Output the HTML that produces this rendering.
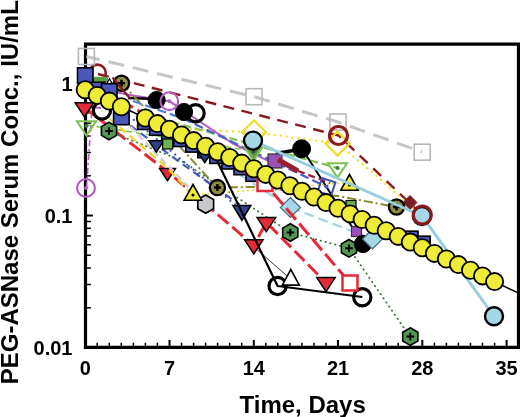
<!DOCTYPE html>
<html><head><meta charset="utf-8"><style>
html,body{margin:0;padding:0;background:#fff;overflow:hidden}
svg{display:block}
text{font-family:"Liberation Sans",Arial,sans-serif;font-weight:bold;fill:#000}
</style></head><body>
<svg width="520" height="417" viewBox="0 0 520 417">
<rect width="520" height="417" fill="#fff"/>
<path d="M85.5 44.1H518.5V347.4H85.5Z" fill="none" stroke="#000" stroke-width="3.2"/>
<path d="M97.2 345.9V342.7" stroke="#000" stroke-width="1.5"/>
<path d="M109.3 345.9V342.7" stroke="#000" stroke-width="1.5"/>
<path d="M121.3 345.9V342.7" stroke="#000" stroke-width="1.5"/>
<path d="M133.4 345.9V342.7" stroke="#000" stroke-width="1.5"/>
<path d="M145.4 345.9V342.7" stroke="#000" stroke-width="1.5"/>
<path d="M157.4 345.9V342.7" stroke="#000" stroke-width="1.5"/>
<path d="M169.5 345.9V339.9" stroke="#000" stroke-width="2"/>
<path d="M181.5 345.9V342.7" stroke="#000" stroke-width="1.5"/>
<path d="M193.6 345.9V342.7" stroke="#000" stroke-width="1.5"/>
<path d="M205.6 345.9V342.7" stroke="#000" stroke-width="1.5"/>
<path d="M217.6 345.9V342.7" stroke="#000" stroke-width="1.5"/>
<path d="M229.7 345.9V342.7" stroke="#000" stroke-width="1.5"/>
<path d="M241.7 345.9V342.7" stroke="#000" stroke-width="1.5"/>
<path d="M253.8 345.9V339.9" stroke="#000" stroke-width="2"/>
<path d="M265.8 345.9V342.7" stroke="#000" stroke-width="1.5"/>
<path d="M277.8 345.9V342.7" stroke="#000" stroke-width="1.5"/>
<path d="M289.9 345.9V342.7" stroke="#000" stroke-width="1.5"/>
<path d="M301.9 345.9V342.7" stroke="#000" stroke-width="1.5"/>
<path d="M314.0 345.9V342.7" stroke="#000" stroke-width="1.5"/>
<path d="M326.0 345.9V342.7" stroke="#000" stroke-width="1.5"/>
<path d="M338.0 345.9V339.9" stroke="#000" stroke-width="2"/>
<path d="M350.1 345.9V342.7" stroke="#000" stroke-width="1.5"/>
<path d="M362.1 345.9V342.7" stroke="#000" stroke-width="1.5"/>
<path d="M374.2 345.9V342.7" stroke="#000" stroke-width="1.5"/>
<path d="M386.2 345.9V342.7" stroke="#000" stroke-width="1.5"/>
<path d="M398.2 345.9V342.7" stroke="#000" stroke-width="1.5"/>
<path d="M410.3 345.9V342.7" stroke="#000" stroke-width="1.5"/>
<path d="M422.3 345.9V339.9" stroke="#000" stroke-width="2"/>
<path d="M434.4 345.9V342.7" stroke="#000" stroke-width="1.5"/>
<path d="M446.4 345.9V342.7" stroke="#000" stroke-width="1.5"/>
<path d="M458.4 345.9V342.7" stroke="#000" stroke-width="1.5"/>
<path d="M470.5 345.9V342.7" stroke="#000" stroke-width="1.5"/>
<path d="M482.5 345.9V342.7" stroke="#000" stroke-width="1.5"/>
<path d="M494.6 345.9V342.7" stroke="#000" stroke-width="1.5"/>
<path d="M506.6 345.9V339.9" stroke="#000" stroke-width="2"/>
<path d="M87.0 307.8H90.9" stroke="#000" stroke-width="1.5"/>
<path d="M87.0 284.5H90.9" stroke="#000" stroke-width="1.5"/>
<path d="M87.0 268.0H90.9" stroke="#000" stroke-width="1.5"/>
<path d="M87.0 255.2H90.9" stroke="#000" stroke-width="1.5"/>
<path d="M87.0 244.8H90.9" stroke="#000" stroke-width="1.5"/>
<path d="M87.0 235.9H90.9" stroke="#000" stroke-width="1.5"/>
<path d="M87.0 228.3H90.9" stroke="#000" stroke-width="1.5"/>
<path d="M87.0 221.5H90.9" stroke="#000" stroke-width="1.5"/>
<path d="M87.0 215.5H92.9" stroke="#000" stroke-width="2"/>
<path d="M87.0 175.8H90.9" stroke="#000" stroke-width="1.5"/>
<path d="M87.0 152.5H90.9" stroke="#000" stroke-width="1.5"/>
<path d="M87.0 136.0H90.9" stroke="#000" stroke-width="1.5"/>
<path d="M87.0 123.2H90.9" stroke="#000" stroke-width="1.5"/>
<path d="M87.0 112.8H90.9" stroke="#000" stroke-width="1.5"/>
<path d="M87.0 103.9H90.9" stroke="#000" stroke-width="1.5"/>
<path d="M87.0 96.3H90.9" stroke="#000" stroke-width="1.5"/>
<path d="M87.0 89.5H90.9" stroke="#000" stroke-width="1.5"/>
<path d="M87.0 83.5H92.9" stroke="#000" stroke-width="2"/>
<path d="M87.0 43.8H90.9" stroke="#000" stroke-width="1.5"/>
<text x="72.5" y="354.7" font-size="20" text-anchor="end">0.01</text>
<text x="72.5" y="222.7" font-size="20" text-anchor="end">0.1</text>
<text x="72.5" y="90.7" font-size="20" text-anchor="end">1</text>
<text x="85.2" y="375.2" font-size="20" text-anchor="middle">0</text>
<text x="169.5" y="375.2" font-size="20" text-anchor="middle">7</text>
<text x="253.8" y="375.2" font-size="20" text-anchor="middle">14</text>
<text x="338.0" y="375.2" font-size="20" text-anchor="middle">21</text>
<text x="422.3" y="375.2" font-size="20" text-anchor="middle">28</text>
<text x="506.6" y="375.2" font-size="20" text-anchor="middle">35</text>
<text x="239.5" y="412.6" font-size="24">Time, Days</text>
<text transform="translate(17.9,384.3) rotate(-90)" x="0" y="0" font-size="24">PEG-ASNase Serum Conc., IU/mL</text>
<path d="M86.4 56.5 L254.0 96.7 L338.0 122.0 L422.0 152.0" fill="none" stroke="#c6c6c6" stroke-width="3" stroke-dasharray="16 9" stroke-dashoffset="2.3" stroke-linecap="butt" stroke-linejoin="round"/>
<path d="M98.0 74.0 L338.5 135.5 L422.3 215.0" fill="none" stroke="#8a1a1e" stroke-width="2.4" stroke-dasharray="11 7.5" stroke-linecap="butt" stroke-linejoin="round"/>
<path d="M86.5 125.0 L253.0 151.0" fill="none" stroke="#7cc24e" stroke-width="1.5" stroke-dasharray="6 4" stroke-linecap="butt" stroke-linejoin="round"/>
<path d="M160.0 118.7 L337.5 168.0" fill="none" stroke="#7cc24e" stroke-width="2.2" stroke-dasharray="8 4" stroke-linecap="butt" stroke-linejoin="round"/>
<path d="M130.0 126.0 L213.0 130.6 L254.0 132.2 L337.5 143.5 L372.0 172.0 L422.0 216.0" fill="none" stroke="#f0e020" stroke-width="2.2" stroke-dasharray="2 4" stroke-linecap="butt" stroke-linejoin="round"/>
<path d="M86.4 188.0 L93.5 88.0" fill="none" stroke="#b25cc2" stroke-width="1.6" stroke-dasharray="6 3 2 3" stroke-linecap="butt" stroke-linejoin="round"/>
<path d="M95.0 88.0 L130.0 95.0 L169.3 101.2 L232.0 143.0 L276.0 164.8" fill="none" stroke="#b25cc2" stroke-width="2" stroke-linecap="butt" stroke-linejoin="round"/>
<path d="M276.0 153.5 L302.0 149.0" fill="none" stroke="#000" stroke-width="3.5" stroke-linecap="butt" stroke-linejoin="round"/>
<path d="M302.0 148.8 L363.0 244.0" fill="none" stroke="#000" stroke-width="2" stroke-linecap="butt" stroke-linejoin="round"/>
<path d="M128.0 98.0 L156.3 99.0" fill="none" stroke="#000" stroke-width="2.4" stroke-linecap="butt" stroke-linejoin="round"/>
<path d="M91.0 107.0 L101.0 108.0" fill="none" stroke="#b25cc2" stroke-width="2.2" stroke-linecap="butt" stroke-linejoin="round"/>
<path d="M133.0 101.0 L183.0 118.5" fill="none" stroke="#4f7fd0" stroke-width="2.2" stroke-dasharray="9 4" stroke-linecap="butt" stroke-linejoin="round"/>
<path d="M122.0 83.0 L217.0 187.5 L254.0 187.0 L338.0 196.0 L396.5 207.0" fill="none" stroke="#8a8a30" stroke-width="2" stroke-dasharray="9 3 2 3" stroke-linecap="butt" stroke-linejoin="round"/>
<path d="M84.5 107.5 L168.8 172.7 L253.8 245.4 L266.3 222.3 L326.3 283.0" fill="none" stroke="#e42a36" stroke-width="3" stroke-dasharray="14 5" stroke-linecap="butt" stroke-linejoin="round"/>
<path d="M109.0 131.0 L180.0 160.0 L290.3 232.5 L349.0 248.3 L410.0 336.7" fill="none" stroke="#3c7a3c" stroke-width="1.8" stroke-dasharray="0.5 4.5" stroke-linecap="round" stroke-linejoin="round"/>
<path d="M110.0 100.0 L242.3 210.8" fill="none" stroke="#4a57bb" stroke-width="2" stroke-dasharray="2 4" stroke-linecap="butt" stroke-linejoin="round"/>
<path d="M120.0 118.0 L178.8 161.5 L240.0 205.0" fill="none" stroke="#4a57bb" stroke-width="2.2" stroke-dasharray="8 5" stroke-linecap="butt" stroke-linejoin="round"/>
<polygon points="159.5,168.4 175.5,168.4 167.5,180.6" fill="#e42a36" stroke="#000" stroke-width="1.5" stroke-linejoin="miter"/>
<path d="M100.0 95.0 L205.4 204.8" fill="none" stroke="#d0d0d0" stroke-width="2.5" stroke-dasharray="7 4" stroke-linecap="butt" stroke-linejoin="round"/>
<path d="M110.0 119.0 L168.0 168.5 L192.3 195.0" fill="none" stroke="#e8d820" stroke-width="2.2" stroke-dasharray="8 5" stroke-linecap="butt" stroke-linejoin="round"/>
<path d="M192.3 195.0 L349.0 182.5" fill="none" stroke="#e8d820" stroke-width="1.5" stroke-dasharray="2 3" stroke-linecap="butt" stroke-linejoin="round"/>
<path d="M240.0 175.0 L290.4 207.5 L372.5 239.0" fill="none" stroke="#a6d7e6" stroke-width="2.4" stroke-dasharray="10 5" stroke-linecap="butt" stroke-linejoin="round"/>
<path d="M253.0 246.0 L290.8 279.3" fill="none" stroke="#000" stroke-width="0.8" stroke-linecap="butt" stroke-linejoin="round"/>
<path d="M183.0 118.5 L326.6 186.8" fill="none" stroke="#4a62c4" stroke-width="2.2" stroke-dasharray="9 4" stroke-linecap="butt" stroke-linejoin="round"/>
<circle cx="97.4" cy="73.0" r="8.4" fill="none" stroke="#8a1a1e" stroke-width="2.6" />
<rect x="94" y="76.8" width="14" height="5.5" fill="#5aa046"/>
<polygon points="103.5,89.6 115.5,89.6 109.5,78.8" fill="#fff" stroke="#000" stroke-width="1.3" stroke-linejoin="miter"/>
<circle cx="121.5" cy="83.3" r="7.6" fill="#8f8f3e" stroke="#000" stroke-width="2.3" />
<path d="M118.0 83.3H125.0M121.5 79.8V86.8" stroke="#000" stroke-width="2.5"/>
<path d="M112.5 77.5 L130.0 98.5" fill="none" stroke="#7a1c24" stroke-width="2.2" stroke-linecap="butt" stroke-linejoin="round"/>
<rect x="77.5" y="67.8" width="15.5" height="15.5" fill="#4a57bb" stroke="#000" stroke-width="1.6"/>
<rect x="89.5" y="82.2" width="15.5" height="15.5" fill="#4a57bb" stroke="#000" stroke-width="1.6"/>
<rect x="101.5" y="83.7" width="15.5" height="15.5" fill="#4a57bb" stroke="#000" stroke-width="1.6"/>
<rect x="113.6" y="109.2" width="15.5" height="15.5" fill="#4a57bb" stroke="#000" stroke-width="1.6"/>
<rect x="137.7" y="114.0" width="15.5" height="15.5" fill="#4a57bb" stroke="#000" stroke-width="1.6"/>
<rect x="149.7" y="119.7" width="15.5" height="15.5" fill="#4a57bb" stroke="#000" stroke-width="1.6"/>
<rect x="161.7" y="125.3" width="15.5" height="15.5" fill="#4a57bb" stroke="#000" stroke-width="1.6"/>
<rect x="173.8" y="131.0" width="15.5" height="15.5" fill="#4a57bb" stroke="#000" stroke-width="1.6"/>
<rect x="185.8" y="136.6" width="15.5" height="15.5" fill="#4a57bb" stroke="#000" stroke-width="1.6"/>
<rect x="197.8" y="142.2" width="15.5" height="15.5" fill="#4a57bb" stroke="#000" stroke-width="1.6"/>
<rect x="209.9" y="147.9" width="15.5" height="15.5" fill="#4a57bb" stroke="#000" stroke-width="1.6"/>
<rect x="221.9" y="153.5" width="15.5" height="15.5" fill="#4a57bb" stroke="#000" stroke-width="1.6"/>
<rect x="234.0" y="159.2" width="15.5" height="15.5" fill="#4a57bb" stroke="#000" stroke-width="1.6"/>
<rect x="246.0" y="165.8" width="15.5" height="15.5" fill="#4a57bb" stroke="#000" stroke-width="1.6"/>
<rect x="402.5" y="231.2" width="15.5" height="15.5" fill="#4a57bb" stroke="#000" stroke-width="1.6"/>
<rect x="414.6" y="236.2" width="15.5" height="15.5" fill="#4a57bb" stroke="#000" stroke-width="1.6"/>
<rect x="78.4" y="48.5" width="16" height="16" fill="none" stroke="#b8b8b8" stroke-width="1.6"/>
<rect x="246.0" y="88.7" width="16" height="16" fill="none" stroke="#b8b8b8" stroke-width="1.6"/>
<rect x="330.0" y="114.0" width="16" height="16" fill="none" stroke="#b8b8b8" stroke-width="1.6"/>
<rect x="414.2" y="144.2" width="16" height="16" fill="none" stroke="#b8b8b8" stroke-width="1.6"/>
<polygon points="75.2,102.8 93.8,102.8 84.5,116.9" fill="#e42a36" stroke="#000" stroke-width="1.5" stroke-linejoin="miter"/>
<polygon points="244.6,239.8 263.1,239.8 253.8,253.9" fill="#e42a36" stroke="#000" stroke-width="1.5" stroke-linejoin="miter"/>
<polygon points="257.1,217.6 275.6,217.6 266.3,231.7" fill="#e42a36" stroke="#000" stroke-width="1.5" stroke-linejoin="miter"/>
<polygon points="316.8,277.6 335.2,277.6 326.0,291.7" fill="#e42a36" stroke="#000" stroke-width="1.5" stroke-linejoin="miter"/>
<polygon points="77.0,121.2 96.0,121.2 86.5,135.6" fill="none" stroke="#7cc24e" stroke-width="2" stroke-linejoin="miter"/>
<circle cx="86.5" cy="126.0" r="2" fill="#3a7a3a"/>
<polygon points="328.0,163.2 347.0,163.2 337.5,177.6" fill="none" stroke="#7cc24e" stroke-width="2" stroke-linejoin="miter"/>
<circle cx="337.5" cy="168.0" r="2" fill="#3a7a3a"/>
<polygon points="244.5,146.9 262.5,146.9 253.5,160.6" fill="#5f984c" stroke="#7cc24e" stroke-width="2" stroke-linejoin="miter"/>
<circle cx="253.5" cy="151.5" r="2" fill="#2a5a2a"/>
<polygon points="148.8,140.7 163.8,140.7 156.3,152.1" fill="#2b3f86" stroke="#000" stroke-width="1.5" stroke-linejoin="miter"/>
<polygon points="197.3,151.2 212.3,151.2 204.8,162.6" fill="#2b3f86" stroke="#000" stroke-width="1.5" stroke-linejoin="miter"/>
<polygon points="232.9,205.5 250.9,205.5 241.9,220.2" fill="#34448a" stroke="#000" stroke-width="1.5" stroke-linejoin="miter"/>
<path d="M209.4 145.0 L277.6 286.0 L362.3 297.0" fill="none" stroke="#000" stroke-width="2.2" stroke-linecap="butt" stroke-linejoin="round"/>
<rect x="268.0" y="154.0" width="14" height="14" fill="#9a52b6" stroke="#333" stroke-width="1.2"/>
<rect x="351.5" y="226.5" width="10" height="10" fill="#a04cc0" stroke="#333" stroke-width="1.2"/>
<path d="M278.0 159.5 L298.0 171.0" fill="none" stroke="#9a1f2e" stroke-width="5" stroke-linecap="butt" stroke-linejoin="round"/>
<path d="M298.0 171.0 L330.0 183.0" fill="none" stroke="#a0202e" stroke-width="2.4" stroke-dasharray="7 4" stroke-linecap="butt" stroke-linejoin="round"/>
<polygon points="410.0,195.5 417.0,202.5 410.0,209.5 403.0,202.5" fill="#7a1c24" stroke="#7a1c24" stroke-width="1"/>
<rect x="162.7" y="139.0" width="10" height="10" fill="#6db34a" stroke="#000" stroke-width="1.2"/>
<rect x="346.0" y="200.5" width="10" height="10" fill="#6db34a" stroke="#000" stroke-width="1.2"/>
<polygon points="109.0,122.2 116.6,126.6 116.6,135.4 109.0,139.8 101.4,135.4 101.4,126.6" fill="#549654" stroke="#000" stroke-width="1.6"/>
<path d="M105.2 131.0H112.8M109.0 127.2V134.8" stroke="#000" stroke-width="2"/>
<polygon points="290.3,223.7 297.9,228.1 297.9,236.9 290.3,241.3 282.7,236.9 282.7,228.1" fill="#549654" stroke="#000" stroke-width="1.6"/>
<path d="M286.5 232.5H294.1M290.3 228.7V236.3" stroke="#000" stroke-width="2"/>
<polygon points="349.0,239.5 356.6,243.9 356.6,252.7 349.0,257.1 341.4,252.7 341.4,243.9" fill="#549654" stroke="#000" stroke-width="1.6"/>
<path d="M345.2 248.3H352.8M349.0 244.5V252.1" stroke="#000" stroke-width="2"/>
<polygon points="410.3,327.8 417.9,332.2 417.9,341.0 410.3,345.4 402.7,341.0 402.7,332.2" fill="#549654" stroke="#000" stroke-width="1.6"/>
<path d="M406.5 336.6H414.1M410.3 332.8V340.4" stroke="#000" stroke-width="2"/>
<polygon points="205.7,195.1 213.6,199.6 213.6,208.8 205.7,213.3 197.8,208.8 197.8,199.6" fill="#c8c8cc" stroke="#000" stroke-width="1.7"/>
<circle cx="156.6" cy="100.0" r="8.6" fill="#000" stroke="#000" stroke-width="1" />
<circle cx="184.0" cy="112.0" r="8.6" fill="#000" stroke="#000" stroke-width="1" />
<circle cx="363.0" cy="244.0" r="8.6" fill="#000" stroke="#000" stroke-width="1" />
<circle cx="301.6" cy="148.8" r="9" fill="#000" stroke="#000" stroke-width="1" />
<circle cx="102.0" cy="110.5" r="8.6" fill="none" stroke="#000" stroke-width="3.2" />
<circle cx="195.6" cy="113.3" r="8.6" fill="none" stroke="#000" stroke-width="3.2" />
<circle cx="277.6" cy="286.0" r="8.6" fill="none" stroke="#000" stroke-width="3.2" />
<circle cx="362.3" cy="297.2" r="8.6" fill="none" stroke="#000" stroke-width="3.2" />
<circle cx="217.4" cy="187.6" r="7.6" fill="#8f8f3e" stroke="#000" stroke-width="2.3" />
<path d="M213.9 187.6H220.9M217.4 184.1V191.1" stroke="#000" stroke-width="2.5"/>
<circle cx="396.5" cy="207.0" r="7.6" fill="#8f8f3e" stroke="#000" stroke-width="2.3" />
<path d="M393.0 207.0H400.0M396.5 203.5V210.5" stroke="#000" stroke-width="2.5"/>
<polygon points="184.2,200.2 201.8,200.2 193.0,184.5" fill="#eeec36" stroke="#000" stroke-width="1.6" stroke-linejoin="miter"/>
<circle cx="193.0" cy="195.0" r="1.6" fill="#000"/>
<polygon points="340.8,190.2 358.2,190.2 349.5,174.5" fill="#eeec36" stroke="#000" stroke-width="1.6" stroke-linejoin="miter"/>
<circle cx="349.5" cy="185.0" r="1.6" fill="#000"/>
<polygon points="254.0,120.2 266.0,132.2 254.0,144.2 242.0,132.2" fill="none" stroke="#eedc30" stroke-width="2.2"/>
<polygon points="337.5,131.5 349.5,143.5 337.5,155.5 325.5,143.5" fill="none" stroke="#eedc30" stroke-width="2.4"/>
<polygon points="290.4,197.5 300.4,207.5 290.4,217.5 280.4,207.5" fill="#a6d7e6" stroke="#4a6a80" stroke-width="1.2"/>
<polygon points="372.5,229.0 382.5,239.0 372.5,249.0 362.5,239.0" fill="#a6d7e6" stroke="#4a6a80" stroke-width="1.2"/>
<path d="M120.0 100.0 L265.0 183.5 L350.0 283.0" fill="none" stroke="#e42a36" stroke-width="3" stroke-dasharray="15 5" stroke-linecap="butt" stroke-linejoin="round"/>
<rect x="257.5" y="176.0" width="15" height="15" fill="#fff" stroke="#e42a36" stroke-width="2.5"/>
<rect x="342.5" y="275.5" width="15" height="15" fill="#fff" stroke="#e42a36" stroke-width="2.5"/>
<polygon points="282.3,285.1 299.3,285.1 290.8,269.5" fill="#fff" stroke="#000" stroke-width="1.6" stroke-linejoin="miter"/>
<rect x="319.6" y="179.8" width="14" height="14" fill="none" stroke="#3d4fb0" stroke-width="2" transform="rotate(18 326.6 186.8)"/>
<circle cx="326.6" cy="186.8" r="2" fill="#4a57bb"/>
<path d="M253.0 140.6 L422.0 216.0 L494.0 316.3" fill="none" stroke="#96cfe2" stroke-width="3" stroke-linecap="butt" stroke-linejoin="round"/>
<circle cx="253.0" cy="140.6" r="9" fill="#a6d7e6" stroke="#000" stroke-width="2.4" />
<circle cx="422.0" cy="216.0" r="9" fill="#a6d7e6" stroke="#000" stroke-width="2.4" />
<circle cx="494.0" cy="316.3" r="9" fill="#a6d7e6" stroke="#000" stroke-width="2.4" />
<circle cx="338.5" cy="135.5" r="9" fill="none" stroke="#8a1a1e" stroke-width="3.2" />
<circle cx="422.3" cy="215.0" r="9" fill="none" stroke="#8a1a1e" stroke-width="3.2" />
<circle cx="86.0" cy="188.0" r="8.9" fill="none" stroke="#b25cc2" stroke-width="2.1" />
<circle cx="86.0" cy="188.0" r="2" fill="#b25cc2"/>
<circle cx="169.3" cy="101.2" r="8.9" fill="none" stroke="#b25cc2" stroke-width="2.1" />
<circle cx="169.3" cy="101.2" r="2" fill="#b25cc2"/>
<path d="M85.2 89.8 L97.2 95.4 L109.3 101.1 L121.3 106.7 L145.4 118.0 L157.4 123.6 L169.5 129.3 L181.5 134.9 L193.6 140.6 L205.6 146.2 L217.6 151.8 L229.7 157.5 L241.7 163.1 L253.8 168.8 L265.8 174.4 L277.8 180.0 L289.9 185.7 L301.9 191.3 L314.0 197.0 L326.0 202.6 L338.0 208.2 L350.1 213.9 L362.1 219.5 L374.2 225.2 L386.2 230.8 L398.2 236.4 L410.3 242.1 L422.3 247.7 L434.4 253.4 L446.4 259.0 L458.4 264.6 L470.5 270.3 L482.5 275.9 L494.6 281.6 L519.0 293.4" fill="none" stroke="#000" stroke-width="1.6" stroke-linecap="butt" stroke-linejoin="round"/>
<circle cx="85.2" cy="89.8" r="8.6" fill="#eeec36" stroke="#000" stroke-width="1.8" />
<circle cx="97.2" cy="95.4" r="8.6" fill="#eeec36" stroke="#000" stroke-width="1.8" />
<circle cx="109.3" cy="101.1" r="8.6" fill="#eeec36" stroke="#000" stroke-width="1.8" />
<circle cx="121.3" cy="106.7" r="8.6" fill="#eeec36" stroke="#000" stroke-width="1.8" />
<circle cx="145.4" cy="118.0" r="8.6" fill="#eeec36" stroke="#000" stroke-width="1.8" />
<circle cx="157.4" cy="123.6" r="8.6" fill="#eeec36" stroke="#000" stroke-width="1.8" />
<circle cx="169.5" cy="129.3" r="8.6" fill="#eeec36" stroke="#000" stroke-width="1.8" />
<circle cx="181.5" cy="134.9" r="8.6" fill="#eeec36" stroke="#000" stroke-width="1.8" />
<circle cx="193.6" cy="140.6" r="8.6" fill="#eeec36" stroke="#000" stroke-width="1.8" />
<circle cx="205.6" cy="146.2" r="8.6" fill="#eeec36" stroke="#000" stroke-width="1.8" />
<circle cx="217.6" cy="151.8" r="8.6" fill="#eeec36" stroke="#000" stroke-width="1.8" />
<circle cx="229.7" cy="157.5" r="8.6" fill="#eeec36" stroke="#000" stroke-width="1.8" />
<circle cx="241.7" cy="163.1" r="8.6" fill="#eeec36" stroke="#000" stroke-width="1.8" />
<circle cx="253.8" cy="168.8" r="8.6" fill="#eeec36" stroke="#000" stroke-width="1.8" />
<circle cx="265.8" cy="174.4" r="8.6" fill="#eeec36" stroke="#000" stroke-width="1.8" />
<circle cx="277.8" cy="180.0" r="8.6" fill="#eeec36" stroke="#000" stroke-width="1.8" />
<circle cx="289.9" cy="185.7" r="8.6" fill="#eeec36" stroke="#000" stroke-width="1.8" />
<circle cx="301.9" cy="191.3" r="8.6" fill="#eeec36" stroke="#000" stroke-width="1.8" />
<circle cx="314.0" cy="197.0" r="8.6" fill="#eeec36" stroke="#000" stroke-width="1.8" />
<circle cx="326.0" cy="202.6" r="8.6" fill="#eeec36" stroke="#000" stroke-width="1.8" />
<circle cx="338.0" cy="208.2" r="8.6" fill="#eeec36" stroke="#000" stroke-width="1.8" />
<circle cx="350.1" cy="213.9" r="8.6" fill="#eeec36" stroke="#000" stroke-width="1.8" />
<circle cx="362.1" cy="219.5" r="8.6" fill="#eeec36" stroke="#000" stroke-width="1.8" />
<circle cx="374.2" cy="225.2" r="8.6" fill="#eeec36" stroke="#000" stroke-width="1.8" />
<circle cx="386.2" cy="230.8" r="8.6" fill="#eeec36" stroke="#000" stroke-width="1.8" />
<circle cx="398.2" cy="236.4" r="8.6" fill="#eeec36" stroke="#000" stroke-width="1.8" />
<circle cx="410.3" cy="242.1" r="8.6" fill="#eeec36" stroke="#000" stroke-width="1.8" />
<circle cx="422.3" cy="247.7" r="8.6" fill="#eeec36" stroke="#000" stroke-width="1.8" />
<circle cx="434.4" cy="253.4" r="8.6" fill="#eeec36" stroke="#000" stroke-width="1.8" />
<circle cx="446.4" cy="259.0" r="8.6" fill="#eeec36" stroke="#000" stroke-width="1.8" />
<circle cx="458.4" cy="264.6" r="8.6" fill="#eeec36" stroke="#000" stroke-width="1.8" />
<circle cx="470.5" cy="270.3" r="8.6" fill="#eeec36" stroke="#000" stroke-width="1.8" />
<circle cx="482.5" cy="275.9" r="8.6" fill="#eeec36" stroke="#000" stroke-width="1.8" />
<circle cx="494.6" cy="281.6" r="8.6" fill="#eeec36" stroke="#000" stroke-width="1.8" />
</svg>
</body></html>
